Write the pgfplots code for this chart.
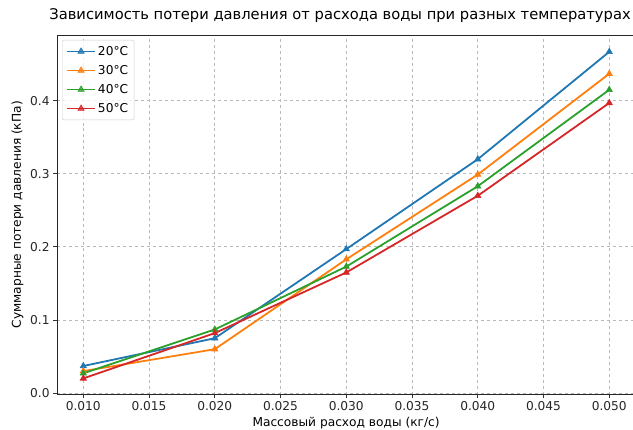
\documentclass[border=0pt]{standalone}
\usepackage{pgfplots}
\pgfplotsset{compat=1.18}
\usepackage{fontspec}
\setmainfont{DejaVu Sans}
\definecolor{c1}{HTML}{1F77B4}
\definecolor{c2}{HTML}{FF7F0E}
\definecolor{c3}{HTML}{2CA02C}
\definecolor{c4}{HTML}{D62728}
\tikzset{ser/.style={color=#1, line width=1.8bp, mark=triangle*, mark size=3.6bp, mark options={fill=#1, line width=0.6bp}}}
\begin{document}
\begin{tikzpicture}
\begin{axis}[
  at={(57bp,35.5bp)}, anchor=south west,
  scale only axis,
  width=590bp, height=359.5bp,
  xmin=0.008, xmax=0.05287,
  ymin=-0.002, ymax=0.490,
  axis y line*=left, axis x line*=bottom,
  xtick pos=bottom, ytick pos=left,
  xtick={0.010,0.015,0.020,0.025,0.030,0.035,0.040,0.045,0.050},
  ytick={0,0.1,0.2,0.3,0.4},
  xticklabel style={/pgf/number format/fixed,/pgf/number format/fixed zerofill,/pgf/number format/precision=3},
  yticklabel style={/pgf/number format/fixed,/pgf/number format/fixed zerofill,/pgf/number format/precision=1},
  scaled x ticks=false, scaled y ticks=false,
  /pgf/number format/assume math mode=true,
  tick label style={font=\fontsize{12.2bp}{14bp}\selectfont, text=black!85},
  label style={font=\fontsize{12.2bp}{14bp}\selectfont},
  title style={at={(axis description cs:0.4797,1)}, anchor=south, font=\fontsize{14.7bp}{17bp}\selectfont, inner sep=0pt, yshift=6bp},
  tick align=outside,
  major tick length=3.9bp,
  tick style={black!80, line width=0.9bp},
  axis line style={black!85, line width=0.9bp, -},
  grid=major,
  grid style={dashed, gray!55, line width=0.8bp},
  title={Зависимость потери давления от расхода воды при разных температурах},
  xlabel={Массовый расход воды (кг/с)},
  ylabel={Суммарные потери давления (кПа)},
  xlabel style={at={(ticklabel cs:0.49)}, anchor=north, yshift=1bp},
  legend style={at={(axis description cs:0,1)}, anchor=north west, xshift=5bp, yshift=-5bp,
    draw=black!20, rounded corners=2bp, fill=white, fill opacity=0.8, text opacity=1,
    font=\fontsize{12.2bp}{14bp}\selectfont, row sep=4.5bp, inner sep=4bp},
  legend cell align=left,
  legend image code/.code={\draw[mark repeat=2,mark phase=2] plot coordinates {(0bp,0bp)(14bp,0bp)(28bp,0bp)};},
]
\draw[black!85, line width=0.9bp] (rel axis cs:0,1) -- (rel axis cs:1,1);
\addplot[ser=c1] coordinates {(0.010,0.037) (0.020,0.075) (0.030,0.197) (0.040,0.320) (0.050,0.467)};
\addlegendentry{20°C}
\addplot[ser=c2] coordinates {(0.010,0.030) (0.020,0.060) (0.030,0.183) (0.040,0.299) (0.050,0.437)};
\addlegendentry{30°C}
\addplot[ser=c3] coordinates {(0.010,0.027) (0.020,0.087) (0.030,0.173) (0.040,0.283) (0.050,0.415)};
\addlegendentry{40°C}
\addplot[ser=c4] coordinates {(0.010,0.020) (0.020,0.082) (0.030,0.165) (0.040,0.270) (0.050,0.397)};
\addlegendentry{50°C}
\end{axis}
\pgfresetboundingbox
\useasboundingbox (0,0) rectangle (633bp,430bp);
\end{tikzpicture}
\end{document}
